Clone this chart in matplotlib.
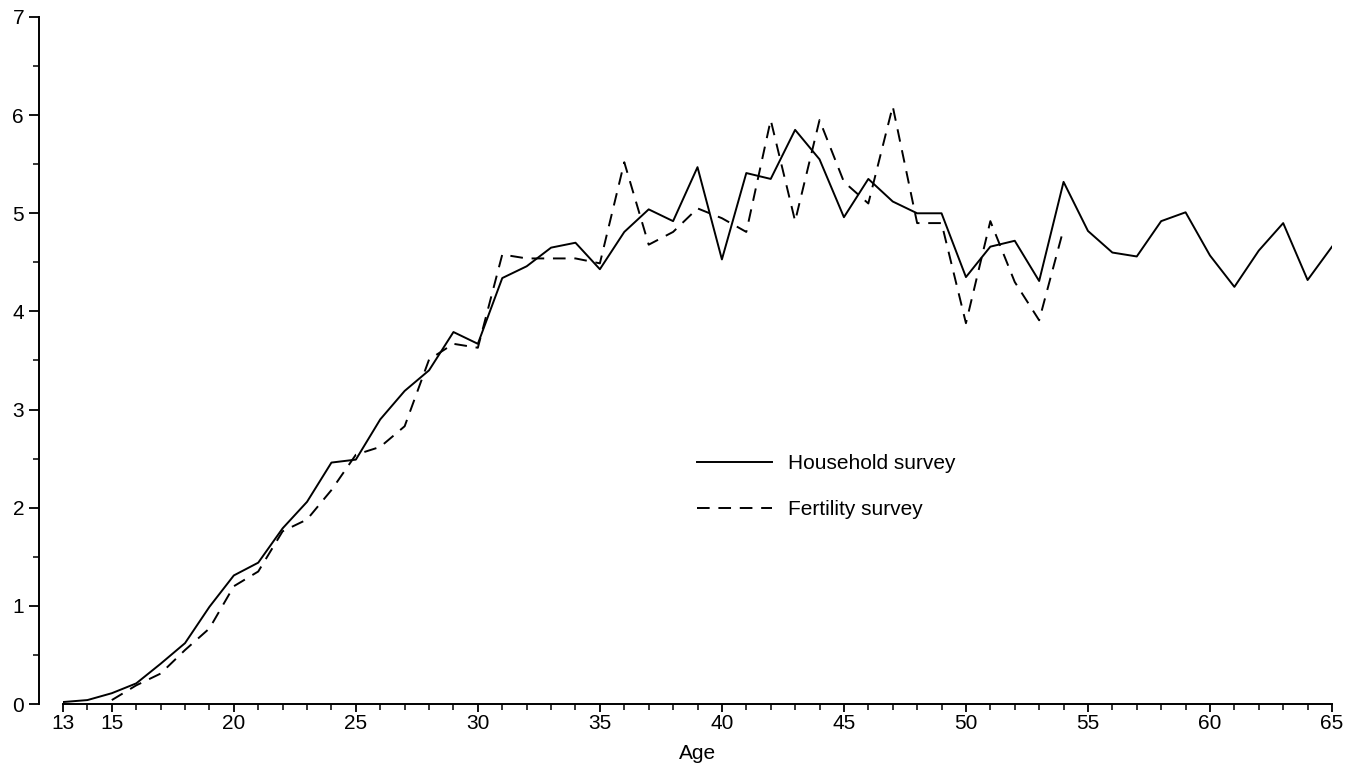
import matplotlib
matplotlib.use("Agg")
import matplotlib.pyplot as plt
from matplotlib.ticker import FixedLocator, MultipleLocator

plt.rcParams['font.family'] = ['Liberation Sans', 'DejaVu Sans']

# Household survey, ages 13-65
household_age = list(range(13, 66))
household = [0.02, 0.04, 0.11, 0.21, 0.41, 0.62, 0.99, 1.31, 1.44, 1.79,
             2.06, 2.46, 2.49, 2.90, 3.19, 3.40, 3.79, 3.67, 4.34, 4.46,
             4.65, 4.70, 4.43, 4.81, 5.04, 4.92, 5.47, 4.53, 5.41, 5.35,
             5.85, 5.55, 4.96, 5.35, 5.12, 5.00, 5.00, 4.35, 4.66, 4.72,
             4.31, 5.32, 4.82, 4.60, 4.56, 4.92, 5.01, 4.57, 4.25, 4.62,
             4.90, 4.32, 4.66]

# Fertility survey, ages 15-54
fertility_age = list(range(15, 55))
fertility = [0.04, 0.19, 0.31, 0.55, 0.77, 1.20, 1.35, 1.76, 1.88, 2.18,
             2.54, 2.62, 2.83, 3.51, 3.67, 3.63, 4.58, 4.54, 4.54, 4.54,
             4.49, 5.52, 4.68, 4.81, 5.05, 4.95, 4.81, 5.95, 4.92, 5.95,
             5.32, 5.10, 6.09, 4.90, 4.90, 3.88, 4.92, 4.30, 3.91, 4.84]

x_ticks = [13, 15, 20, 25, 30, 35, 40, 45, 50, 55, 60, 65]
y_ticks = [0, 1, 2, 3, 4, 5, 6, 7]

fig = plt.figure(figsize=(13.63, 7.65), dpi=100)
ax = fig.add_axes([63 / 1363, 61 / 765, (1332 - 63) / 1363, (704 - 17) / 765])

ax.plot(household_age, household, color='black', lw=1.4, label='Household survey')
ax.plot(fertility_age, fertility, color='black', lw=1.4, dashes=(6.5, 4.5),
        label='Fertility survey')

ax.set_xlim(13, 65)
ax.set_ylim(0, 7)

ax.spines['top'].set_visible(False)
ax.spines['right'].set_visible(False)
ax.spines['left'].set_position(('outward', 17))
ax.spines['left'].set_bounds(0, 7)
ax.spines['bottom'].set_bounds(13, 65)
for s in ('left', 'bottom'):
    ax.spines[s].set_linewidth(1.4)

ax.xaxis.set_major_locator(FixedLocator(x_ticks))
ax.xaxis.set_minor_locator(MultipleLocator(1))
ax.yaxis.set_major_locator(FixedLocator(y_ticks))
ax.yaxis.set_minor_locator(MultipleLocator(0.5))
ax.tick_params(which='major', length=6, width=1.3, labelsize=15, direction='out')
ax.tick_params(which='minor', length=4, width=1.1, direction='out')
ax.tick_params(axis='y', which='major', length=7, pad=4)
ax.tick_params(axis='x', pad=1)

ax.set_xlabel('Age', fontsize=15, labelpad=8)

ax.legend(loc='upper left', bbox_to_anchor=(0.485, 0.391), frameon=False,
          fontsize=15, handlelength=3.6, handletextpad=0.75, labelspacing=1.3)

fig.savefig('out.png', dpi=100)
